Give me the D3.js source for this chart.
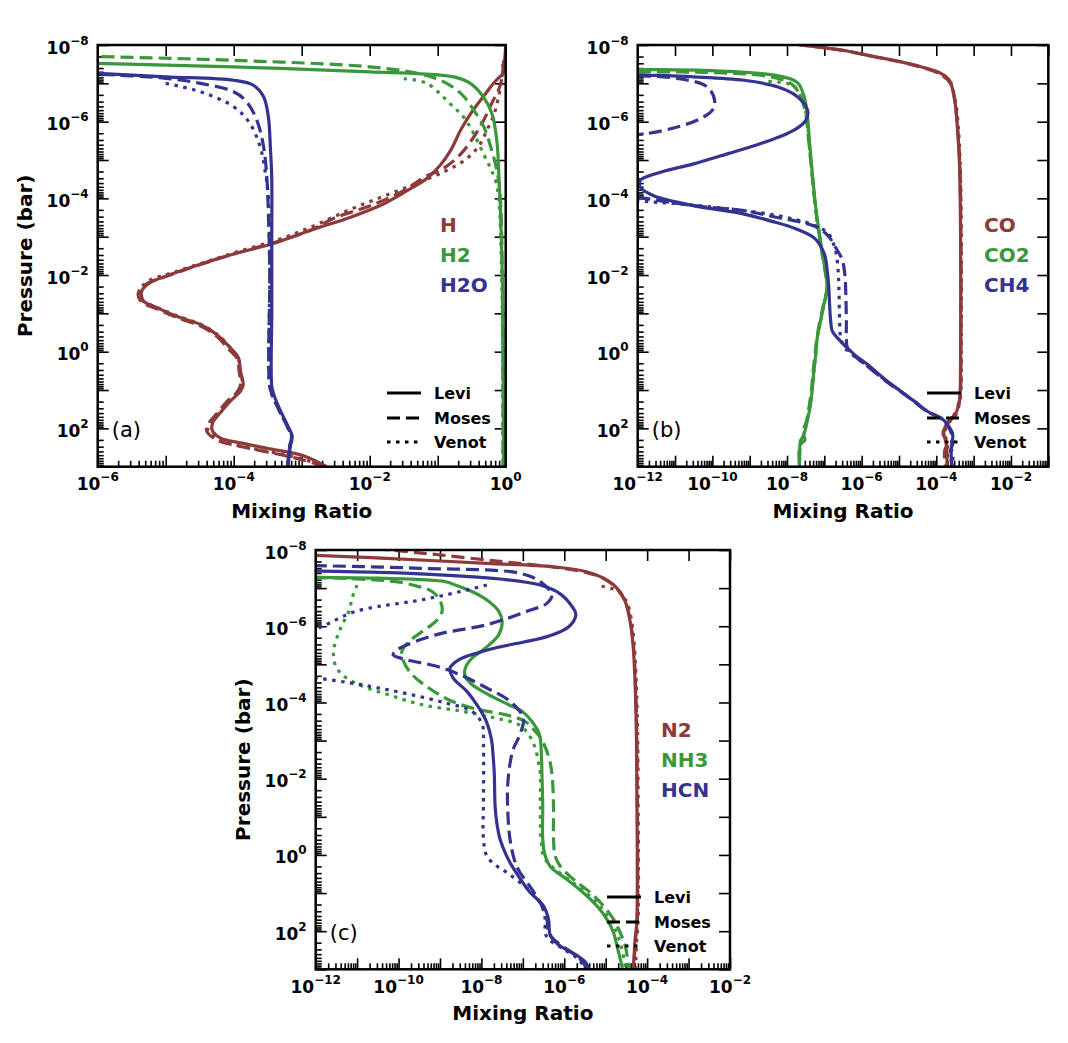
<!DOCTYPE html>
<html><head><meta charset="utf-8">
<script src="https://cdn.jsdelivr.net/npm/d3@7"></script>
<style>
body{margin:0;background:#fff}
svg{display:block}
text{font-family:"DejaVu Sans",sans-serif}
</style>
</head><body>
<svg id="chart" width="1068" height="1043"></svg>
<script>
// ---------------- DATA (pairs of [log10 mixing ratio, log10 pressure in bar]) ----------------
const models = ["Levi", "Moses", "Venot"];
const speciesA = ["H", "H2", "H2O"];
const speciesB = ["CO", "CO2", "CH4"];
const speciesC = ["N2", "NH3", "HCN"];
const panelTags = ["(a)", "(b)", "(c)"];
const xLabelExpA = [-6, -4, -2, 0];
const xLabelExpB = [-12, -10, -8, -6, -4, -2];
const xLabelExpC = [-12, -10, -8, -6, -4, -2];
const yLabelExp = [-8, -6, -4, -2, 0, 2];

// Panel (a)
const a_H_Levi = [[0,-8],[-0.02,-7.5],[-0.04,-7.25],[-0.1,-7.15],[-0.18,-7.0],[-0.3,-6.72],[-0.48,-6.3],[-0.65,-5.82],[-0.81,-5.25],[-0.96,-4.87],[-1.16,-4.52],[-1.45,-4.2],[-1.79,-3.86],[-2.28,-3.51],[-2.78,-3.22],[-3.1,-3.02],[-3.44,-2.81],[-4.0,-2.55],[-4.49,-2.28],[-4.98,-1.98],[-5.23,-1.8],[-5.35,-1.59],[-5.33,-1.33],[-5.13,-1.15],[-4.79,-0.89],[-4.49,-0.71],[-4.25,-0.45],[-4.05,-0.1],[-3.93,0.16],[-3.9,0.51],[-3.86,0.86],[-3.9,1.03],[-4.05,1.29],[-4.22,1.64],[-4.3,1.82],[-4.32,2.03],[-4.2,2.25],[-3.9,2.38],[-3.51,2.52],[-3.02,2.69],[-2.78,2.86],[-2.63,3.0]];
const a_H_Moses = [[-0.03,-7.6],[-0.05,-7.2],[-0.1,-6.85],[-0.2,-6.5],[-0.32,-6.05],[-0.47,-5.6],[-0.66,-5.16],[-0.9,-4.8],[-1.2,-4.55],[-1.5,-4.2],[-2.0,-3.8],[-2.5,-3.5],[-2.9,-3.15],[-3.4,-2.85],[-4.0,-2.55],[-4.5,-2.27],[-5.0,-1.96],[-5.27,-1.78],[-5.4,-1.55],[-5.37,-1.32],[-5.15,-1.13],[-4.82,-0.88],[-4.5,-0.68],[-4.27,-0.43],[-4.08,-0.08],[-3.95,0.18],[-3.92,0.52],[-3.9,0.86],[-3.95,1.05],[-4.1,1.3],[-4.27,1.66],[-4.36,1.85],[-4.4,2.05],[-4.25,2.3],[-3.95,2.45],[-3.55,2.6],[-3.1,2.77],[-2.8,2.92],[-2.68,3.0]];
const a_H_Venot = [[-0.04,-7.5],[-0.06,-7.1],[-0.1,-6.7],[-0.17,-6.2],[-0.27,-5.8],[-0.4,-5.35],[-0.6,-5.0],[-0.9,-4.7],[-1.3,-4.4],[-1.8,-4.05],[-2.3,-3.7],[-2.8,-3.3],[-3.3,-2.95],[-3.9,-2.63],[-4.4,-2.35],[-4.9,-2.06],[-5.25,-1.85],[-5.38,-1.6],[-5.35,-1.35],[-5.12,-1.15],[-4.78,-0.9],[-4.47,-0.7],[-4.24,-0.45],[-4.05,-0.1],[-3.93,0.2],[-3.9,0.55],[-3.87,0.86],[-3.93,1.05],[-4.08,1.3],[-4.25,1.66],[-4.34,1.85],[-4.38,2.05],[-4.22,2.3],[-3.93,2.45],[-3.5,2.6],[-3.05,2.77],[-2.78,2.92],[-2.66,3.0]];
const a_H2_Levi = [[-6.5,-7.55],[-6,-7.52],[-4,-7.43],[-2,-7.3],[-1.0,-7.22],[-0.72,-7.15],[-0.52,-7.0],[-0.33,-6.65],[-0.2,-6.2],[-0.13,-5.5],[-0.1,-4.6],[-0.08,-3.8],[-0.05,-2],[-0.04,0],[-0.03,3]];
const a_H2_Moses = [[-6.5,-7.72],[-6,-7.7],[-4,-7.6],[-2,-7.43],[-1.3,-7.26],[-0.96,-7.08],[-0.66,-6.74],[-0.47,-6.3],[-0.32,-5.86],[-0.22,-5.34],[-0.12,-4.64],[-0.075,-3.86],[-0.05,-2],[-0.04,0],[-0.04,3]];
const a_H2_Venot = [[-1.5,-7.12],[-1.16,-7.0],[-0.82,-6.47],[-0.62,-6.12],[-0.47,-5.69],[-0.33,-5.17],[-0.23,-4.81],[-0.15,-4.47],[-0.1,-3.94],[-0.06,-2],[-0.045,0],[-0.04,3]];
const a_H2O_Levi = [[-6.5,-7.3],[-6,-7.26],[-5,-7.17],[-4,-7.08],[-3.71,-6.95],[-3.56,-6.65],[-3.49,-6.12],[-3.46,-5.3],[-3.44,-4.5],[-3.44,-3],[-3.44,-1],[-3.44,0.9],[-3.41,1.12],[-3.33,1.47],[-3.19,1.99],[-3.14,2.2],[-3.17,2.5],[-3.2,3.0]];
const a_H2O_Moses = [[-6.5,-7.28],[-6,-7.24],[-5,-7.13],[-4.49,-7.0],[-4.0,-6.78],[-3.81,-6.52],[-3.66,-6.04],[-3.56,-5.34],[-3.51,-4.47],[-3.49,-3.6],[-3.47,-2],[-3.47,0.9],[-3.42,1.2],[-3.34,1.5],[-3.2,2.0],[-3.15,2.2],[-3.18,2.5],[-3.21,3.0]];
const a_H2O_Venot = [[-5.0,-7.0],[-4.49,-6.78],[-4.0,-6.39],[-3.76,-5.95],[-3.61,-5.34],[-3.54,-4.73],[-3.49,-4.03],[-3.47,-2],[-3.47,0.9],[-3.42,1.2],[-3.34,1.5],[-3.2,2.0],[-3.15,2.2],[-3.18,2.5],[-3.21,3.0]];

// Panel (b)
const b_CO_Levi = [[-8.5,-8.15],[-7.82,-8.03],[-6.56,-7.87],[-5.67,-7.7],[-4.77,-7.52],[-3.88,-7.26],[-3.65,-7.08],[-3.52,-6.65],[-3.43,-5.78],[-3.38,-4.9],[-3.35,-3],[-3.35,0],[-3.36,1.0],[-3.38,1.3],[-3.5,1.64],[-3.68,1.82],[-3.8,2.1],[-3.76,2.3],[-3.72,2.5],[-3.72,3.0]];
const b_CO_Moses = [[-8.3,-8.1],[-7.6,-8.0],[-6.5,-7.86],[-5.6,-7.68],[-4.7,-7.5],[-3.9,-7.24],[-3.62,-7.0],[-3.5,-6.5],[-3.42,-5.7],[-3.37,-4.9],[-3.34,-3],[-3.34,0],[-3.35,1.0],[-3.4,1.35],[-3.55,1.7],[-3.72,1.9],[-3.82,2.15],[-3.7,2.35],[-3.78,2.6],[-3.75,3.0]];
const b_CO_Venot = [[-3.62,-7.05],[-3.48,-6.5],[-3.4,-5.7],[-3.36,-4.9],[-3.33,-3],[-3.33,0],[-3.34,1.0],[-3.37,1.3],[-3.48,1.65],[-3.66,1.85],[-3.78,2.12],[-3.72,2.35],[-3.7,2.6],[-3.7,3.0]];
const b_CO2_Levi = [[-12.5,-7.37],[-12,-7.36],[-10,-7.33],[-8.26,-7.2],[-7.72,-7.02],[-7.54,-6.65],[-7.45,-6.12],[-7.4,-5.5],[-7.32,-4.64],[-7.23,-3.77],[-7.12,-3.0],[-7.05,-2.55],[-6.97,-2.1],[-6.92,-1.67],[-7.01,-1.24],[-7.1,-0.8],[-7.19,-0.36],[-7.23,0.07],[-7.28,0.5],[-7.32,0.95],[-7.37,1.38],[-7.46,1.82],[-7.55,2.17],[-7.64,2.34],[-7.66,2.7],[-7.67,3.0]];
const b_CO2_Moses = [[-12.5,-7.31],[-12,-7.3],[-10,-7.28],[-8.5,-7.18],[-7.9,-7.0],[-7.65,-6.7],[-7.5,-6.2],[-7.42,-5.5],[-7.33,-4.64],[-7.24,-3.77],[-7.13,-3.0],[-7.06,-2.55],[-6.98,-2.1],[-6.93,-1.67],[-7.02,-1.24],[-7.12,-0.8],[-7.2,-0.36],[-7.25,0.07],[-7.3,0.5],[-7.34,0.95],[-7.4,1.38],[-7.48,1.82],[-7.58,2.1],[-7.52,2.3],[-7.66,2.45],[-7.66,3.0]];
const b_CO2_Venot = [[-8.5,-7.05],[-7.85,-6.95],[-7.6,-6.6],[-7.47,-6.1],[-7.41,-5.5],[-7.33,-4.64],[-7.24,-3.77],[-7.13,-3.0],[-7.05,-2.55],[-6.97,-2.1],[-6.92,-1.67],[-7.01,-1.24],[-7.1,-0.8],[-7.19,-0.36],[-7.23,0.07],[-7.28,0.5],[-7.32,0.95],[-7.38,1.38],[-7.47,1.82],[-7.56,2.17],[-7.64,2.34],[-7.66,2.7],[-7.67,3.0]];
const b_CH4_Levi = [[-12.5,-7.24],[-12,-7.22],[-10.5,-7.17],[-9.15,-7.08],[-8.26,-6.91],[-7.72,-6.65],[-7.45,-6.3],[-7.49,-6.04],[-7.81,-5.78],[-8.7,-5.43],[-9.6,-5.16],[-10.5,-4.9],[-11.39,-4.68],[-11.93,-4.47],[-11.93,-4.29],[-11.57,-4.07],[-10.5,-3.81],[-9.15,-3.59],[-8.4,-3.4],[-7.75,-3.2],[-7.25,-2.95],[-7.0,-2.55],[-6.92,-2.1],[-6.88,-1.67],[-6.86,-1.24],[-6.83,-0.8],[-6.79,-0.54],[-6.65,-0.36],[-6.2,0.07],[-5.85,0.33],[-5.31,0.77],[-4.95,1.03],[-4.59,1.29],[-4.23,1.56],[-3.87,1.73],[-3.7,1.9],[-3.56,2.17],[-3.6,2.5],[-3.59,3.0]];
const b_CH4_Moses = [[-12.5,-7.22],[-12,-7.2],[-10.94,-7.13],[-10.14,-6.91],[-9.94,-6.56],[-10.0,-6.3],[-10.32,-6.08],[-10.94,-5.86],[-11.75,-5.69],[-12.5,-5.6],[-13,-5.5],[-13,-4.2],[-12.5,-4.1],[-12,-4.03],[-10.5,-3.81],[-9.15,-3.68],[-8.26,-3.5],[-7.63,-3.38],[-7.18,-3.24],[-6.88,-3.0],[-6.7,-2.72],[-6.52,-2.4],[-6.45,-2.0],[-6.43,-1.67],[-6.41,-0.8],[-6.41,-0.36],[-6.38,-0.1],[-6.2,0.1],[-5.88,0.35],[-5.35,0.77],[-4.97,1.03],[-4.61,1.29],[-4.25,1.56],[-3.89,1.73],[-3.72,1.9],[-3.58,2.17],[-3.56,2.4],[-3.62,2.6],[-3.57,3.0]];
const b_CH4_Venot = [[-13,-4.1],[-12,-3.94],[-10.94,-3.86],[-9.6,-3.73],[-8.26,-3.55],[-7.36,-3.33],[-6.91,-3.1],[-6.75,-2.8],[-6.68,-2.55],[-6.63,-2.1],[-6.61,-1.67],[-6.59,-0.8],[-6.56,-0.36],[-6.45,-0.1],[-6.22,0.1],[-5.88,0.35],[-5.33,0.77],[-4.96,1.03],[-4.6,1.29],[-4.24,1.56],[-3.88,1.73],[-3.71,1.9],[-3.55,2.2],[-3.62,2.45],[-3.55,2.7],[-3.6,3.0]];

// Panel (c)
const c_N2_Levi = [[-12.5,-7.88],[-12,-7.86],[-10.29,-7.78],[-7.87,-7.65],[-6.26,-7.56],[-5.46,-7.43],[-5.05,-7.26],[-4.73,-7.0],[-4.53,-6.65],[-4.41,-6.12],[-4.34,-5.51],[-4.29,-4.47],[-4.26,-3.16],[-4.25,-2.0],[-4.25,1.77],[-4.29,2.21],[-4.33,2.9],[-4.34,3.0]];
const c_N2_Moses = [[-11,-8.08],[-10.2,-8.0],[-9.0,-7.87],[-7.55,-7.7],[-6.34,-7.56],[-5.5,-7.42],[-5.05,-7.25],[-4.72,-6.98],[-4.52,-6.63],[-4.4,-6.1],[-4.33,-5.5],[-4.28,-4.47],[-4.25,-3.16],[-4.24,-2.0],[-4.24,1.77],[-4.28,2.21],[-4.32,2.9],[-4.33,3.0]];
const c_N2_Venot = [[-5.1,-7.05],[-4.7,-6.92],[-4.48,-6.6],[-4.37,-6.1],[-4.31,-5.5],[-4.26,-4.47],[-4.23,-3.16],[-4.22,-2.0],[-4.22,1.77],[-4.25,2.21],[-4.28,2.9],[-4.29,3.0]];
const c_NH3_Levi = [[-12.5,-7.29],[-12,-7.28],[-10.48,-7.26],[-8.87,-7.17],[-8.63,-7.08],[-8.23,-6.91],[-7.82,-6.65],[-7.58,-6.39],[-7.5,-6.12],[-7.58,-5.78],[-7.9,-5.43],[-8.23,-5.16],[-8.39,-4.9],[-8.39,-4.68],[-8.23,-4.47],[-7.82,-4.2],[-7.34,-3.94],[-7.02,-3.77],[-6.78,-3.5],[-6.6,-3.16],[-6.55,-2.55],[-6.54,-2.15],[-6.52,-1.28],[-6.52,-0.41],[-6.46,0.03],[-6.34,0.3],[-5.94,0.64],[-5.54,0.99],[-5.21,1.34],[-4.97,1.69],[-4.81,2.04],[-4.73,2.38],[-4.61,2.91],[-4.6,3.0]];
const c_NH3_Moses = [[-12.5,-7.29],[-12,-7.28],[-10.08,-7.17],[-9.51,-7.04],[-9.19,-6.91],[-8.99,-6.65],[-8.95,-6.39],[-9.11,-6.12],[-9.43,-5.86],[-9.75,-5.6],[-9.92,-5.34],[-9.88,-5.08],[-9.67,-4.73],[-9.27,-4.38],[-8.71,-4.03],[-8.06,-3.81],[-7.42,-3.68],[-6.94,-3.5],[-6.7,-3.24],[-6.55,-3.03],[-6.38,-2.59],[-6.3,-2.15],[-6.26,-1.28],[-6.26,-0.41],[-6.22,0.03],[-6.1,0.29],[-5.78,0.64],[-5.37,0.99],[-5.05,1.34],[-4.81,1.69],[-4.65,2.04],[-4.53,2.38],[-4.45,2.91],[-4.44,3.0]];
const c_NH3_Venot = [[-11.0,-7.08],[-11.12,-6.74],[-11.2,-6.39],[-11.36,-6.04],[-11.49,-5.69],[-11.57,-5.34],[-11.53,-4.99],[-11.36,-4.73],[-10.96,-4.47],[-10.24,-4.2],[-9.43,-3.94],[-8.47,-3.77],[-7.66,-3.59],[-7.1,-3.42],[-6.86,-3.16],[-6.7,-2.8],[-6.62,-2.4],[-6.58,-2.15],[-6.58,-1.28],[-6.56,-0.41],[-6.5,0.03],[-6.3,0.3],[-5.9,0.64],[-5.48,0.99],[-5.15,1.34],[-4.9,1.69],[-4.74,2.04],[-4.63,2.38],[-4.53,2.91],[-4.52,3.0]];
const c_HCN_Levi = [[-12.5,-7.47],[-12,-7.45],[-10,-7.4],[-8.68,-7.33],[-7.55,-7.24],[-6.58,-7.08],[-6.1,-6.85],[-5.8,-6.5],[-5.72,-6.3],[-5.9,-5.98],[-6.35,-5.75],[-7.0,-5.58],[-7.6,-5.45],[-8.1,-5.3],[-8.55,-5.12],[-8.76,-4.9],[-8.68,-4.64],[-8.35,-4.29],[-8.11,-3.94],[-7.88,-3.5],[-7.75,-2.98],[-7.72,-2.63],[-7.69,-2.15],[-7.67,-1.28],[-7.63,-0.85],[-7.55,-0.41],[-7.39,0.03],[-7.2,0.4],[-6.85,0.95],[-6.5,1.34],[-6.38,1.69],[-6.34,2.1],[-6.15,2.35],[-5.75,2.6],[-5.5,2.8],[-5.4,3.0]];
const c_HCN_Moses = [[-12.5,-7.6],[-12,-7.59],[-9.48,-7.52],[-7.07,-7.39],[-6.58,-7.17],[-6.3,-6.82],[-6.42,-6.6],[-6.9,-6.39],[-7.87,-6.04],[-9.08,-5.78],[-10.04,-5.38],[-10.13,-5.25],[-9.8,-5.12],[-9.08,-4.95],[-8.52,-4.73],[-7.87,-4.38],[-7.31,-4.03],[-6.99,-3.59],[-7.07,-3.16],[-7.23,-2.78],[-7.32,-2.33],[-7.37,-1.72],[-7.35,-0.85],[-7.31,-0.41],[-7.23,0.03],[-7.15,0.29],[-7.07,0.46],[-6.78,0.9],[-6.54,1.34],[-6.42,1.69],[-6.38,2.04],[-6.26,2.21],[-5.94,2.47],[-5.62,2.73],[-5.49,2.91],[-5.45,3.0]];
const c_HCN_Venot = [[-7.87,-7.08],[-8.87,-6.82],[-9.67,-6.65],[-10.48,-6.52],[-11.04,-6.39],[-11.36,-6.25],[-11.6,-6.12],[-11.85,-5.99],[-12.3,-5.8],[-13,-5.5],[-13,-4.9],[-12.3,-4.72],[-11.93,-4.64],[-11.2,-4.52],[-10.48,-4.38],[-9.67,-4.2],[-8.87,-3.99],[-8.23,-3.77],[-7.98,-3.42],[-7.95,-2.9],[-7.95,-1.5],[-7.95,-0.41],[-7.87,0.03],[-7.63,0.29],[-7.39,0.46],[-7.07,0.72],[-6.78,0.99],[-6.54,1.34],[-6.46,1.69],[-6.46,2.04],[-6.38,2.21],[-6.02,2.47],[-5.66,2.73],[-5.54,2.91],[-5.5,3.0]];

// ---------------- RENDERING ----------------
const colors = ["#8c3a3a", "#3b973b", "#34338f"];
const dashes = {Levi: null, Moses: "13,6", Venot: "3.5,5.5"};

const svg = d3.select("#chart");

const panels = [
  {tag: panelTags[0], species: speciesA, left: 97.7, right: 505.7, top: 45, bottom: 466.7,
   xDomain: [1e-6, 1], xLabels: xLabelExpA, showYTitle: true,
   curves: [[a_H_Levi, a_H_Moses, a_H_Venot], [a_H2_Levi, a_H2_Moses, a_H2_Venot], [a_H2O_Levi, a_H2O_Moses, a_H2O_Venot]],
   specX: 440, specY: [225, 255, 285], legX: 387, legY: [393, 418, 442]},
  {tag: panelTags[1], species: speciesB, left: 637.7, right: 1048.3, top: 45, bottom: 466.7,
   xDomain: [1e-12, 1e-1], xLabels: xLabelExpB, showYTitle: false,
   curves: [[b_CO_Levi, b_CO_Moses, b_CO_Venot], [b_CO2_Levi, b_CO2_Moses, b_CO2_Venot], [b_CH4_Levi, b_CH4_Moses, b_CH4_Venot]],
   specX: 984, specY: [225, 255, 285], legX: 927, legY: [393, 418, 442]},
  {tag: panelTags[2], species: speciesC, left: 315.7, right: 730, top: 550, bottom: 969.3,
   xDomain: [1e-12, 1e-2], xLabels: xLabelExpC, showYTitle: true,
   curves: [[c_N2_Levi, c_N2_Moses, c_N2_Venot], [c_NH3_Levi, c_NH3_Moses, c_NH3_Venot], [c_HCN_Levi, c_HCN_Moses, c_HCN_Venot]],
   specX: 661, specY: [730, 760, 790], legX: 607, legY: [897, 922, 946]}
];

function decades(lo, hi) {
  const out = [];
  for (let e = Math.round(Math.log10(lo)); e <= Math.round(Math.log10(hi)); e++) out.push(Math.pow(10, e));
  return out;
}
function minors(lo, hi) {
  const out = [];
  for (let e = Math.floor(Math.log10(lo)); e < Math.ceil(Math.log10(hi)); e++)
    for (let m = 2; m <= 9; m++) { const v = m * Math.pow(10, e); if (v > lo && v < hi) out.push(v); }
  return out;
}

function supLabel(g, x, y, exp, anchor) {
  const t = g.append("text").attr("x", x).attr("y", y).attr("text-anchor", anchor)
    .attr("font-weight", "bold").attr("fill", "#000");
  t.append("tspan").attr("font-size", 17).text("10");
  t.append("tspan").attr("font-size", 12).attr("dy", -9).text(exp < 0 ? "\u2212" + Math.abs(exp) : String(exp));
}

panels.forEach((p, pi) => {
  const g = svg.append("g");
  const x = d3.scaleLog().domain(p.xDomain).range([p.left, p.right]);
  const y = d3.scaleLog().domain([1e-8, 1e3]).range([p.top, p.bottom]);
  const clipId = "clip" + pi;
  g.append("clipPath").attr("id", clipId).append("rect")
    .attr("x", p.left).attr("y", p.top).attr("width", p.right - p.left).attr("height", p.bottom - p.top);

  const styleAxis = sel => { sel.select(".domain").remove(); sel.selectAll(".tick line").attr("stroke", "#000").attr("stroke-width", 1.6); sel.selectAll(".tick text").remove(); };
  const xMaj = decades(p.xDomain[0], p.xDomain[1]);
  const xMin = minors(p.xDomain[0], p.xDomain[1]);
  const yMaj = decades(1e-8, 1e3);
  const yMin = minors(1e-8, 1e3);
  g.append("g").attr("transform", `translate(0,${p.bottom})`).call(d3.axisBottom(x).tickValues(xMaj).tickSize(-11).tickFormat(() => "")).call(styleAxis);
  g.append("g").attr("transform", `translate(0,${p.bottom})`).call(d3.axisBottom(x).tickValues(xMin).tickSize(-6).tickFormat(() => "")).call(styleAxis);
  g.append("g").attr("transform", `translate(0,${p.top})`).call(d3.axisTop(x).tickValues(xMaj).tickSize(-11).tickFormat(() => "")).call(styleAxis);
  g.append("g").attr("transform", `translate(${p.left},0)`).call(d3.axisLeft(y).tickValues(yMaj).tickSize(-11).tickFormat(() => "")).call(styleAxis);
  g.append("g").attr("transform", `translate(${p.left},0)`).call(d3.axisLeft(y).tickValues(yMin).tickSize(-6).tickFormat(() => "")).call(styleAxis);
  g.append("g").attr("transform", `translate(${p.right},0)`).call(d3.axisRight(y).tickValues(yMaj).tickSize(-11).tickFormat(() => "")).call(styleAxis);

  const line = d3.line().x(d => x(Math.pow(10, d[0]))).y(d => y(Math.pow(10, d[1]))).curve(d3.curveCatmullRom.alpha(0.5));
  const cg = g.append("g").attr("clip-path", `url(#${clipId})`);
  p.curves.forEach((sp, si) => {
    sp.forEach((pts, mi) => {
      cg.append("path").attr("d", line(pts)).attr("fill", "none")
        .attr("stroke", colors[si]).attr("stroke-width", 3.2)
        .attr("stroke-dasharray", dashes[models[mi]]);
    });
  });

  g.append("rect").attr("x", p.left).attr("y", p.top).attr("width", p.right - p.left).attr("height", p.bottom - p.top)
    .attr("fill", "none").attr("stroke", "#000").attr("stroke-width", 2.5);

  p.xLabels.forEach(e => supLabel(g, x(Math.pow(10, e)), p.bottom + 23.5, e, "middle"));
  yLabelExp.forEach(e => supLabel(g, p.left - 9, y(Math.pow(10, e)) + 8.5, e, "end"));

  g.append("text").attr("x", (p.left + p.right) / 2).attr("y", p.bottom + 51).attr("text-anchor", "middle")
    .attr("font-weight", "bold").attr("font-size", 20).text("Mixing Ratio");
  if (p.showYTitle) {
    const cx = p.left - 73, cy = (p.top + p.bottom) / 2;
    g.append("text").attr("transform", `translate(${cx},${cy}) rotate(-90)`).attr("text-anchor", "middle")
      .attr("dy", "0.35em").attr("font-weight", "bold").attr("font-size", 20).text("Pressure (bar)");
  }

  p.species.forEach((s, si) => {
    g.append("text").attr("x", p.specX).attr("y", p.specY[si]).attr("dy", "0.36em")
      .attr("font-weight", "bold").attr("font-size", 20).attr("fill", colors[si]).text(s);
  });

  models.forEach((m, mi) => {
    g.append("line").attr("x1", p.legX).attr("x2", p.legX + 34).attr("y1", p.legY[mi]).attr("y2", p.legY[mi])
      .attr("stroke", "#000").attr("stroke-width", 3).attr("stroke-dasharray", dashes[m]);
    g.append("text").attr("x", p.legX + 47).attr("y", p.legY[mi]).attr("dy", "0.36em")
      .attr("font-weight", "bold").attr("font-size", 16).text(m);
  });

  g.append("text").attr("x", p.left + 14).attr("y", y(1e2) + 1).attr("dy", "0.36em")
    .attr("font-size", 21).attr("fill", "#000").text(p.tag);
});
</script>
</body></html>
